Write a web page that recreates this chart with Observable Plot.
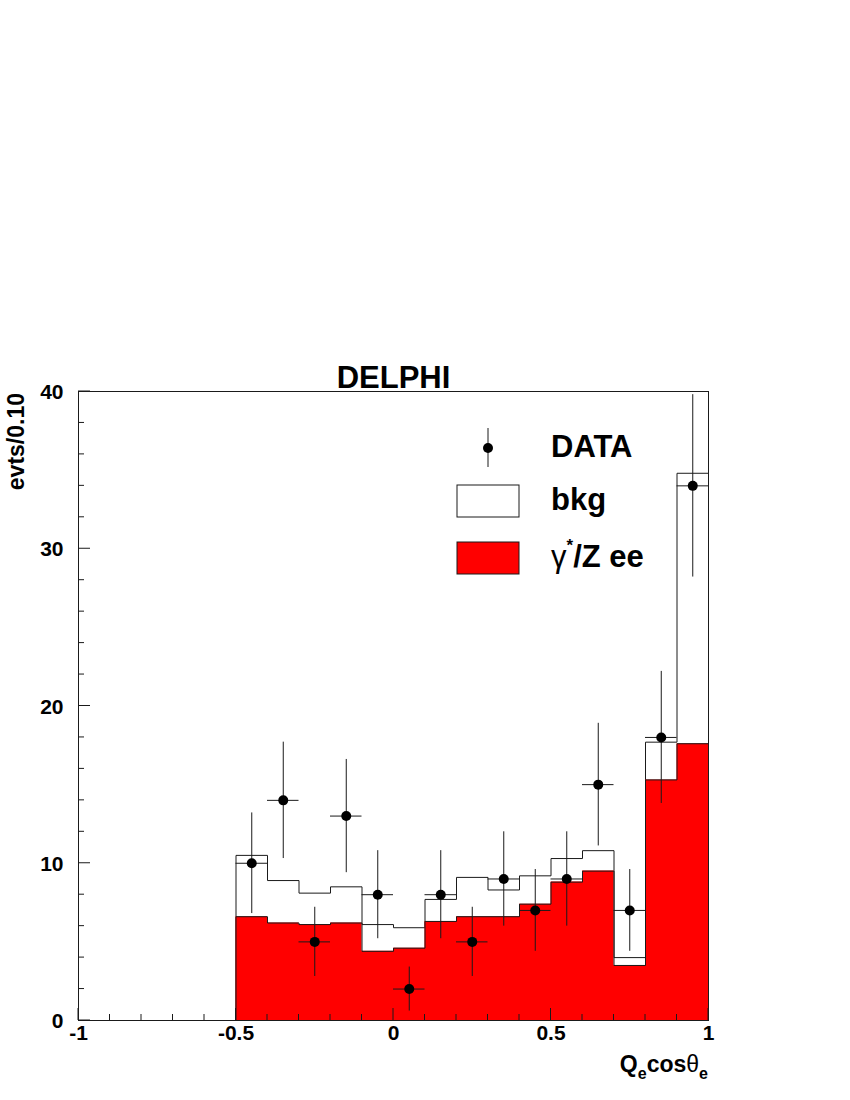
<!DOCTYPE html>
<html><head><meta charset="utf-8">
<script src="https://cdn.jsdelivr.net/npm/d3@7"></script>
<script src="https://cdn.jsdelivr.net/npm/@observablehq/plot@0.6"></script>
<style>body{margin:0;background:#fff} #chart svg{display:block}</style>
</head><body><div id="chart"></div>
<script>
// ---- data ----
const binLow    = [-0.5,-0.4,-0.3,-0.2,-0.1,0.0,0.1,0.2,0.3,0.4,0.5,0.6,0.7,0.8,0.9];
const binWidth  = 0.1;
const totalMC   = [10.5,8.9,8.1,8.5,6.1,5.9,7.7,9.1,8.3,9.2,10.3,10.8,4.0,17.7,34.8]; // bkg + signal
const signalMC  = [6.6,6.2,6.1,6.2,4.4,4.6,6.3,6.6,6.6,7.4,8.8,9.5,3.5,15.3,17.6];    // gamma*/Z ee
const dataCounts= [10,14,5,13,8,2,8,5,9,7,9,15,7,18,34];
const dataErr   = [3.2,3.7,2.2,3.6,2.8,1.4,2.8,2.2,3.0,2.6,3.0,3.9,2.6,4.2,5.8];
const xTickLabels = [-1,-0.5,0,0.5,1];
const yTickLabels = [0,10,20,30,40];
const xMinorTicks = [-0.9,-0.8,-0.7,-0.6,-0.4,-0.3,-0.2,-0.1,0.1,0.2,0.3,0.4,0.6,0.7,0.8,0.9];
const yMinorTicks = [2,4,6,8,12,14,16,18,22,24,26,28,32,34,36,38];
const titleText = "DELPHI";
const legendLabels = ["DATA","bkg"];

// ---- tables built from the arrays ----
const bins = binLow.map((lo,i)=>({lo, hi: lo+binWidth, mid: lo+binWidth/2,
  total: totalMC[i], signal: signalMC[i], n: dataCounts[i], err: dataErr[i]}));
function stepPoints(values){
  const last = binLow.length-1;
  return [{x: binLow[0], y: 0}]
    .concat(binLow.map((lo,i)=>({x: lo, y: values[i]})))
    .concat([{x: binLow[last]+binWidth, y: values[last]}, {x: binLow[last]+binWidth, y: 0}]);
}
const totalPts = stepPoints(totalMC);
const signalPts = stepPoints(signalMC);

const FONT = "'Liberation Sans', Arial, Helvetica, sans-serif";
const INK = "#1a1a1a";

const plot = Plot.plot({
  width: 850, height: 1100,
  marginLeft: 78, marginRight: 142, marginTop: 391, marginBottom: 80,
  style: {fontFamily: FONT, background: "white"},
  x: {domain: [-1, 1], axis: null},
  y: {domain: [0, 40], axis: null},
  marks: [
    Plot.areaY(totalPts, {x: "x", y: "y", curve: "step-after", fill: "white"}),
    Plot.lineY(totalPts, {x: "x", y: "y", curve: "step-after", stroke: INK, strokeWidth: 1}),
    Plot.areaY(signalPts, {x: "x", y: "y", curve: "step-after", fill: "#ff0000"}),
    Plot.lineY(signalPts, {x: "x", y: "y", curve: "step-after", stroke: INK, strokeWidth: 1}),
    Plot.ruleY(bins, {x1: "lo", x2: "hi", y: "n", stroke: INK, strokeWidth: 1}),
    Plot.ruleX(bins, {x: "mid", y1: d => d.n - d.err, y2: d => d.n + d.err, stroke: INK, strokeWidth: 1}),
    Plot.dot(bins, {x: "mid", y: "n", r: 5, fill: "black", stroke: null}),
    Plot.frame({stroke: INK, strokeWidth: 1}),
    Plot.text(xTickLabels, {x: d => d, frameAnchor: "bottom", dy: 19, text: d => String(d),
      fontSize: 21, fontWeight: "bold", fill: "black"}),
    Plot.text(yTickLabels, {y: d => d, frameAnchor: "left", textAnchor: "end", dx: -15, dy: 1,
      text: d => String(d), fontSize: 21, fontWeight: "bold", fill: "black"}),
    Plot.text([titleText], {frameAnchor: "top", dy: -26, text: d => d,
      fontSize: 31, fontWeight: "bold", fill: "black"})
  ]
});
document.getElementById("chart").appendChild(plot);

// ---- ticks, axis titles and legend drawn with the plot's own scales ----
const sx = plot.scale("x"), sy = plot.scale("y");
const X = v => sx.apply(v), Y = v => sy.apply(v);
const svg = d3.select(plot);
const g = svg.append("g").attr("stroke", INK).attr("stroke-width", 1);
const y0 = Y(0), x0 = X(-1);
xTickLabels.forEach(v => g.append("line").attr("x1", X(v)).attr("x2", X(v)).attr("y1", y0).attr("y2", y0 - 12));
xMinorTicks.forEach(v => g.append("line").attr("x1", X(v)).attr("x2", X(v)).attr("y1", y0).attr("y2", y0 - 6));
yTickLabels.forEach(v => g.append("line").attr("y1", Y(v)).attr("y2", Y(v)).attr("x1", x0).attr("x2", x0 + 12));
yMinorTicks.forEach(v => g.append("line").attr("y1", Y(v)).attr("y2", Y(v)).attr("x1", x0).attr("x2", x0 + 6));

// x axis title  Q_e cos θ_e
const xt = svg.append("text").attr("x", X(1)).attr("y", y0 + 52).attr("text-anchor", "end")
  .attr("font-family", FONT).attr("font-weight", "bold").attr("font-size", 23).attr("fill", "black");
xt.append("tspan").text("Q");
xt.append("tspan").attr("font-size", 16).attr("dy", 7).text("e");
xt.append("tspan").attr("dy", -7).text("cos");
xt.append("tspan").attr("font-weight", "normal").text("θ");
xt.append("tspan").attr("font-size", 16).attr("dy", 7).text("e");

// y axis title
svg.append("text").attr("transform", `translate(24,${Y(40)+2}) rotate(-90)`).attr("text-anchor", "end")
  .attr("font-family", FONT).attr("font-weight", "bold").attr("font-size", 23).attr("fill", "black")
  .text("evts/0.10");

// legend
const lg = svg.append("g").attr("font-family", FONT).attr("font-weight", "bold").attr("font-size", 31)
  .attr("fill", "black").attr("text-anchor", "start");
lg.append("line").attr("x1", 488).attr("x2", 488).attr("y1", 428).attr("y2", 467).attr("stroke", INK);
lg.append("circle").attr("cx", 488).attr("cy", 448).attr("r", 5).attr("fill", "black");
lg.append("text").attr("x", 551).attr("y", 457).text(legendLabels[0]);
lg.append("rect").attr("x", 457).attr("y", 485).attr("width", 62).attr("height", 32).attr("fill", "white").attr("stroke", INK);
lg.append("text").attr("x", 551).attr("y", 510).text(legendLabels[1]);
lg.append("rect").attr("x", 457).attr("y", 542).attr("width", 62).attr("height", 32).attr("fill", "#ff0000").attr("stroke", INK);
const sig = lg.append("text").attr("x", 551).attr("y", 567);
sig.append("tspan").attr("font-weight", "normal").text("γ");
sig.append("tspan").attr("font-size", 17).attr("dy", -16).text("*");
sig.append("tspan").attr("dy", 16).text("/Z ee");
</script>
</body></html>
